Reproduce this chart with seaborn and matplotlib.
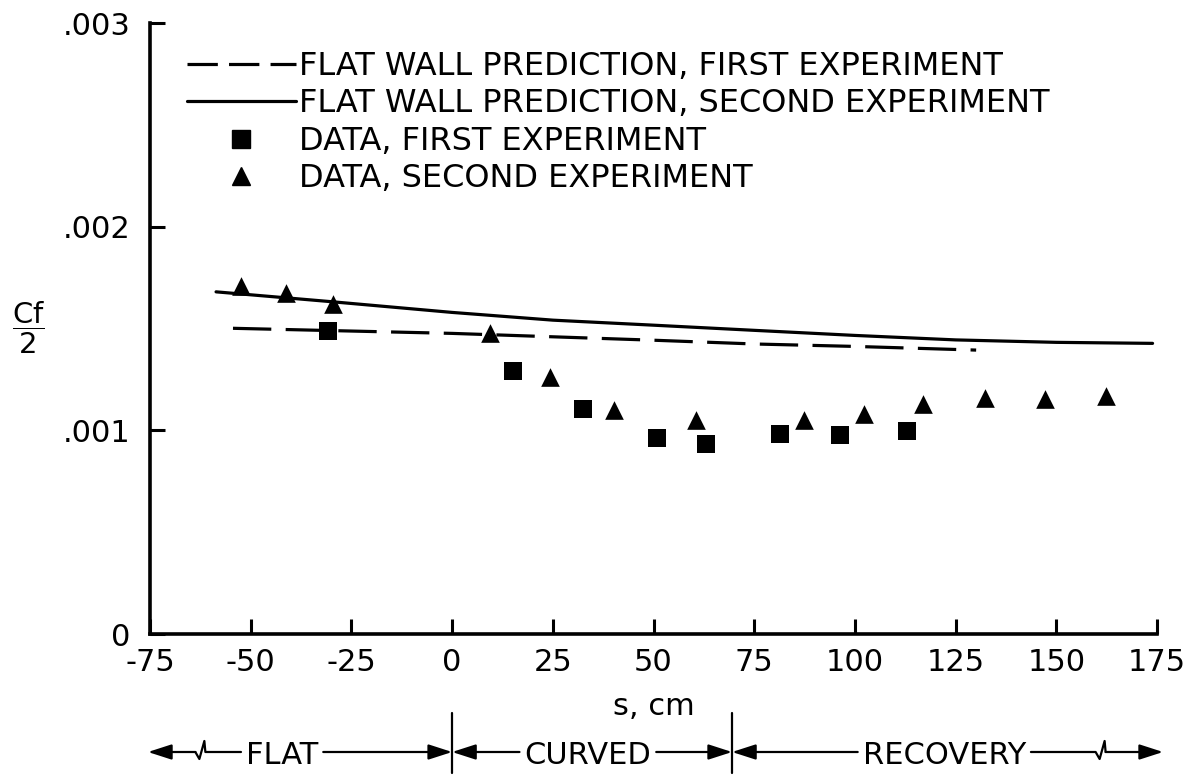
import numpy as np
import pandas as pd
import matplotlib
matplotlib.use('Agg')
import matplotlib.pyplot as plt
import matplotlib.transforms as mtrans
from matplotlib.lines import Line2D
import seaborn as sns

# ---------------- data ----------------
pred1_s = [-54.4, 0, 49.3, 75, 100, 130.1]
pred1_cf = [0.001501, 0.001476, 0.001443, 0.001424, 0.001412, 0.001394]
pred2_s = [-58.6, -29.6, 0, 25, 49.3, 75, 100, 125, 150, 173.9]
pred2_cf = [0.001680, 0.001631, 0.001579, 0.001541, 0.001517, 0.001491,
            0.001466, 0.001444, 0.001432, 0.001427]

data1_s = [-30.7, 15.1, 32.6, 50.9, 63.0, 81.3, 96.3, 113.0]
data1_cf = [0.001490, 0.001290, 0.001106, 0.000960, 0.000932, 0.000984,
            0.000978, 0.000995]
data2_s = [-52.5, -41.2, -29.6, 9.3, 24.4, 40.3, 60.6, 87.4, 102.2, 117.0,
           132.4, 147.3, 162.4]
data2_cf = [0.001709, 0.001676, 0.001619, 0.001476, 0.001262, 0.001098,
            0.001050, 0.001052, 0.001078, 0.001131, 0.001157, 0.001152,
            0.001171]

legend_labels = ['FLAT WALL PREDICTION, FIRST EXPERIMENT',
                 'FLAT WALL PREDICTION, SECOND EXPERIMENT',
                 'DATA, FIRST EXPERIMENT',
                 'DATA, SECOND EXPERIMENT']

xticks = [-75, -50, -25, 0, 25, 50, 75, 100, 125, 150, 175]
xtick_labels = ['-75', '-50', '-25', '0', '25', '50', '75', '100', '125', '150', '175']
yticks = [0, 0.001, 0.002, 0.003]
ytick_labels = ['0', '.001', '.002', '.003']

section_names = ['FLAT', 'CURVED', 'RECOVERY']
section_edges = [-75.5, 0, 69.5, 176.5]
section_centers = [-42.2, 33.7, 122.2]
break_positions = [-62.0, 161.5]

# ---------------- style ----------------
sns.set_theme(style='ticks')
plt.rcParams['font.family'] = ['DejaVu Sans']
plt.rcParams['axes.unicode_minus'] = False
plt.rcParams['mathtext.fontset'] = 'dejavusans'
for k in ['text.color', 'axes.labelcolor', 'xtick.color', 'ytick.color',
          'axes.edgecolor']:
    plt.rcParams[k] = 'black'

W, H = 1187, 775
fig = plt.figure(figsize=(W / 100, H / 100), dpi=100)
ax = fig.add_axes([150 / W, 141 / H, 1007 / W, 611 / H])

df_p1 = pd.DataFrame({'s': pred1_s, 'cf': pred1_cf})
df_p2 = pd.DataFrame({'s': pred2_s, 'cf': pred2_cf})
df_d1 = pd.DataFrame({'s': data1_s, 'cf': data1_cf})
df_d2 = pd.DataFrame({'s': data2_s, 'cf': data2_cf})

dash = (0, (12, 4.5))
sns.lineplot(data=df_p1, x='s', y='cf', color='black', lw=2.3,
             linestyle=dash, errorbar=None, ax=ax)
sns.lineplot(data=df_p2, x='s', y='cf', color='black', lw=2.3,
             errorbar=None, ax=ax)
sns.scatterplot(data=df_d1, x='s', y='cf', marker='s', s=155, color='black',
                edgecolor='black', linewidth=0, ax=ax, zorder=3)
sns.scatterplot(data=df_d2, x='s', y='cf', marker='^', s=180, color='black',
                edgecolor='black', linewidth=0, ax=ax, zorder=3)

ax.set_xlim(-75, 175)
ax.set_ylim(0, 0.003)
ax.set_xticks(xticks)
ax.set_xticklabels(xtick_labels)
ax.set_yticks(yticks)
ax.set_yticklabels(ytick_labels)
sns.despine(ax=ax)
for sp in ['left', 'bottom']:
    ax.spines[sp].set_linewidth(2.6)
    ax.spines[sp].set_color('black')
ax.tick_params(direction='in', length=11, width=2.2, labelsize=22,
               colors='black')
ax.tick_params(axis='y', pad=14)
ax.tick_params(axis='x', pad=10)
ax.set_xlabel('s, cm', fontsize=22, labelpad=11, color='black')
ax.set_ylabel('')

# y label as fraction
fig.text(29 / W, (H - 328) / H, r'$\dfrac{\mathrm{Cf}}{\mathrm{2}}$',
         ha='center', va='center', fontsize=21, color='black')

# legend
handles = [
    Line2D([], [], color='black', lw=2.3, linestyle=(0, (9.5, 3.5))),
    Line2D([], [], color='black', lw=2.3),
    Line2D([], [], color='black', marker='s', markersize=12.4, lw=0),
    Line2D([], [], color='black', marker='^', markersize=13.4, lw=0),
]
ax.legend(handles, legend_labels, loc='upper left',
          bbox_to_anchor=((187 - 150) / 1007, (634 - 51) / 611),
          frameon=False, fontsize=23, handlelength=3.4, handletextpad=0.12,
          labelspacing=0.2, borderpad=0, borderaxespad=0, numpoints=1,
          labelcolor='black')

# bottom section annotation
row_y = (H - 752) / H
trans = mtrans.blended_transform_factory(ax.transData, fig.transFigure)
texts = []
for name, c in zip(section_names, section_centers):
    t = ax.text(c, row_y, name, transform=trans, ha='center',
                va='center_baseline', fontsize=22, color='black')
    texts.append(t)

fig.canvas.draw()
renderer = fig.canvas.get_renderer()
inv = ax.transData.inverted()
px = 1 / 4.03  # data units per pixel in x
py = 1 / H     # figure fraction per pixel in y
gap = 5 * px

def arrow(x_from, x_to):
    ax.annotate('', xy=(x_to, row_y), xytext=(x_from, row_y),
                xycoords=trans, textcoords=trans, annotation_clip=False,
                arrowprops=dict(arrowstyle='-|>,head_length=0.96,head_width=0.31',
                                mutation_scale=15, lw=1.6, color='black',
                                shrinkA=0, shrinkB=0))

def zig(b):
    xs = [b - 7 * px, b - 3 * px, b + 2 * px, b + 3 * px]
    ys = [row_y, row_y - 7 * py, row_y + 11 * py, row_y]
    return xs, ys

for i, t in enumerate(texts):
    bb = t.get_window_extent(renderer)
    tl = inv.transform((bb.x0, 0))[0] - gap
    tr = inv.transform((bb.x1, 0))[0] + gap
    L, R = section_edges[i], section_edges[i + 1]
    if i == 0:
        b = break_positions[0]
        xs, ys = zig(b)
        ax.plot([tl] + xs[::-1], [row_y] + ys[::-1], color='black', lw=1.6,
                transform=trans, clip_on=False)
        arrow(xs[0], L)
    else:
        arrow(tl, L)
    if i == len(texts) - 1:
        b = break_positions[1]
        xs, ys = zig(b)
        ax.plot([tr] + xs, [row_y] + ys, color='black', lw=1.6,
                transform=trans, clip_on=False)
        arrow(xs[-1], R)
    else:
        arrow(tr, R)

for e in section_edges[1:3]:
    ax.plot([e, e], [(H - 773) / H, (H - 713) / H], color='black', lw=1.6,
            transform=trans, clip_on=False)

fig.savefig('out.png', dpi=100)
